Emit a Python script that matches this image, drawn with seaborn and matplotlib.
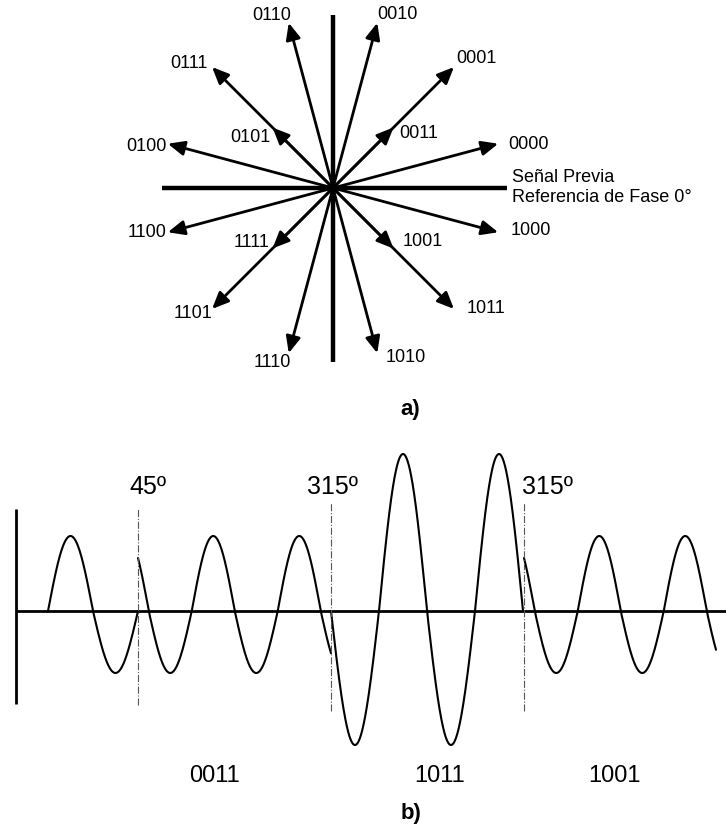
import numpy as np
import pandas as pd
import matplotlib
matplotlib.use("Agg")
import matplotlib.pyplot as plt
import seaborn as sns

# 16-point constellation: bit groups, phase angle (degrees) and relative amplitude
symbols = ["0000", "0001", "0011", "0010", "0110", "0111", "0101", "0100",
           "1100", "1101", "1111", "1110", "1010", "1011", "1001", "1000"]
phases_deg = [15, 45, 45, 75, 105, 135, 135, 165,
              195, 225, 225, 255, 285, 315, 315, 345]
amplitudes = [1.0, 1.0, 0.5, 1.0, 1.0, 1.0, 0.5, 1.0,
              1.0, 1.0, 0.5, 1.0, 1.0, 1.0, 0.5, 1.0]

# Waveform: previous signal followed by three transmitted symbols
seg_bits = ["", "0011", "1011", "1001"]
seg_start = [48, 138, 331, 524]
seg_end = [138, 331, 523, 716]
seg_period = [90, 86, 96, 86]
seg_start_phase = [0, 135, 180, 135]
seg_amp_pos = [75, 75, 157, 75]
seg_amp_neg = [62, 62, 134, 62]
shift_labels = ["45º", "315º", "315º"]

# ---------------------------------------------------------------- layout
W_PX, H_PX, DPI = 726, 827, 100
R_PX = 171                       # pixel length of a unit-amplitude vector
CX, CY = 333, 188                # constellation origin (pixels)
SPLIT = 430                      # pixel row separating the two panels

# label offsets from each arrow tip, in pixels (x right, y up)
label_offsets = {
    "0000": (30, -1), "0001": (23, 9), "0011": (25, -6), "0010": (20, 8),
    "0110": (-17, 7), "0111": (-23, 4), "0101": (-22, -10), "0100": (-21, -3),
    "1100": (-21, 0), "1101": (-19, -5), "1111": (-21, 6), "1110": (-16, -9),
    "1010": (28, -4), "1011": (32, 0), "1001": (29, 7), "1000": (33, 2),
}

sns.set_theme(style="white")
plt.rcParams["font.family"] = ["Liberation Sans", "DejaVu Sans"]

fig = plt.figure(figsize=(W_PX / DPI, H_PX / DPI), dpi=DPI)
fig.patch.set_facecolor("white")

# ---------------------------------------------------------------- a) constellation
ax_a = fig.add_axes([0, (H_PX - SPLIT) / H_PX, 1, SPLIT / H_PX])
ax_a.set_xlim(-CX / R_PX, (W_PX - CX) / R_PX)
ax_a.set_ylim((CY - SPLIT) / R_PX, CY / R_PX)
ax_a.axis("off")

ax_a.plot([-1.0, 1.02], [0, 0], color="black", lw=3.2, solid_capstyle="butt")
ax_a.plot([0, 0], [-1.02, 1.01], color="black", lw=3.2, solid_capstyle="butt")

ang = np.deg2rad(phases_deg)
tip_x = np.array(amplitudes) * np.cos(ang)
tip_y = np.array(amplitudes) * np.sin(ang)
for name, x, y in zip(symbols, tip_x, tip_y):
    ax_a.annotate("", xy=(x, y), xytext=(0, 0),
                  arrowprops=dict(arrowstyle="-|>,head_length=0.5,head_width=0.22",
                                  color="black", lw=2.0, mutation_scale=20,
                                  shrinkA=0, shrinkB=0))
    dx, dy = label_offsets[name]
    ax_a.annotate(name, xy=(x, y), xytext=(dx, dy), textcoords="offset pixels",
                  ha="center", va="center", fontsize=13, color="black")

ax_a.text((512 - CX) / R_PX, (CY - 177) / R_PX, "Señal Previa",
          ha="left", va="center", fontsize=13, color="black")
ax_a.text((512 - CX) / R_PX, (CY - 197) / R_PX, "Referencia de Fase 0°",
          ha="left", va="center", fontsize=13, color="black")
ax_a.text((410 - CX) / R_PX, (CY - 410) / R_PX, "a)", ha="center", va="center",
          fontsize=16, fontweight="bold", color="black")

# ---------------------------------------------------------------- b) waveform
BASE = 611                       # pixel row of the time axis
ax_b = fig.add_axes([0, 0, 1, (H_PX - SPLIT) / H_PX])
ax_b.set_xlim(0, W_PX)
ax_b.set_ylim(BASE - H_PX, BASE - SPLIT)
ax_b.axis("off")

frames = []
for k in range(len(seg_start)):
    t = np.linspace(seg_start[k], seg_end[k], 500)
    theta = np.deg2rad(seg_start_phase[k] + 360.0 * (t - seg_start[k]) / seg_period[k])
    s = np.sin(theta)
    v = np.where(s >= 0, s * seg_amp_pos[k], s * seg_amp_neg[k])
    frames.append(pd.DataFrame({"t": t, "v": v, "seg": k}))
wave = pd.concat(frames, ignore_index=True)

ax_b.plot([16, W_PX], [0, 0], color="black", lw=2.0, solid_capstyle="butt")
ax_b.plot([16, 16], [-93, 102], color="black", lw=2.0, solid_capstyle="butt")

sns.lineplot(data=wave, x="t", y="v", units="seg", estimator=None, sort=False,
             color="black", lw=1.5, ax=ax_b, legend=False)
ax_b.axis("off")

# phase-change markers at each symbol boundary
bound_ext = [(-94, 102), (-100, 108), (-100, 108)]
shift_dx = [10, 1, 23]
for xb, (y0, y1), lab, dx in zip(seg_start[1:], bound_ext, shift_labels, shift_dx):
    ax_b.plot([xb, xb], [y0, y1], color="#555555", lw=0.8, ls="-.")
    ax_b.text(xb + dx, BASE - 487, lab, ha="center", va="center",
              fontsize=18, color="black")

bits_x = [214, 440, 615]
for xb, lab in zip(bits_x, seg_bits[1:]):
    ax_b.text(xb, BASE - 776, lab, ha="center", va="center",
              fontsize=17, color="black")

ax_b.text(411, BASE - 813, "b)", ha="center", va="center",
          fontsize=16, fontweight="bold", color="black")

fig.savefig("out.png", dpi=DPI, facecolor="white")
